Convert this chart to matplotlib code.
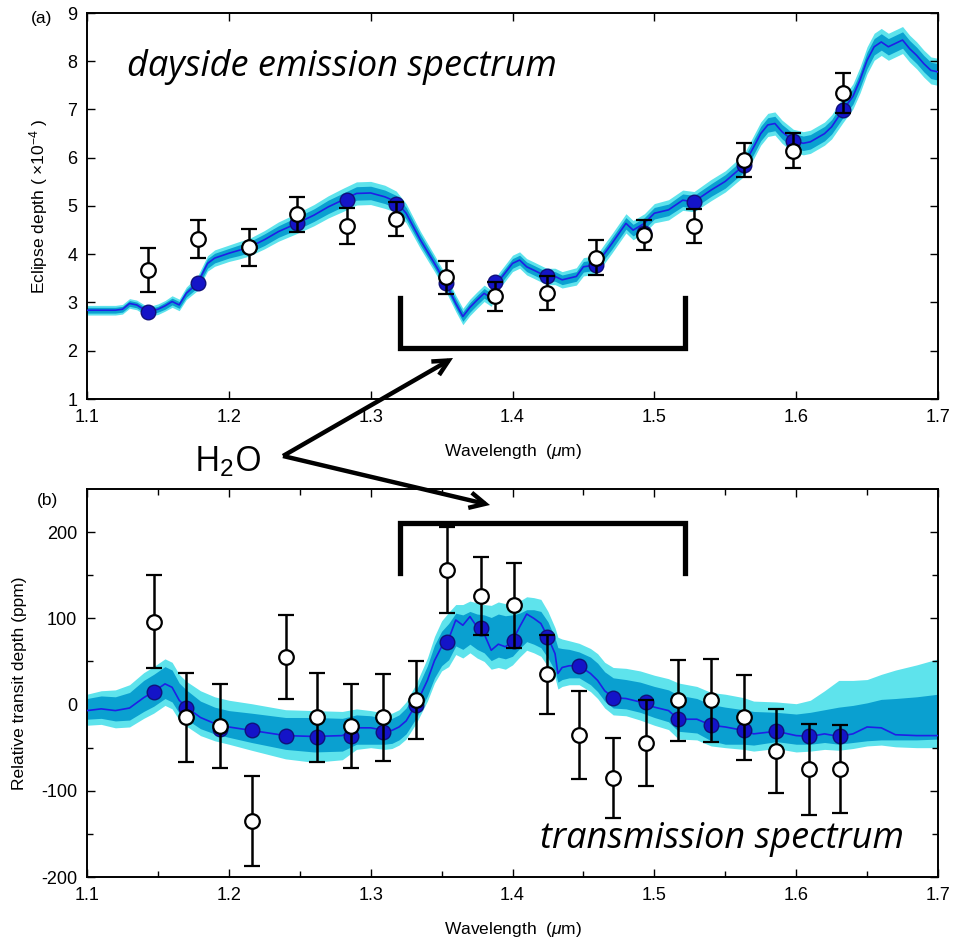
import matplotlib
matplotlib.use("Agg")
import matplotlib.pyplot as plt
import numpy as np

# ---- panel (a): dayside emission ----
em_model_wl = [1.100, 1.110, 1.120, 1.125, 1.130, 1.135, 1.140, 1.143, 1.150, 1.155,
               1.160, 1.165, 1.170, 1.178, 1.185, 1.190, 1.200, 1.207, 1.214, 1.225,
               1.235, 1.248, 1.260, 1.270, 1.280, 1.290, 1.300, 1.310, 1.318, 1.325,
               1.335, 1.345, 1.353, 1.360, 1.365, 1.370, 1.375, 1.380, 1.385, 1.390,
               1.400, 1.405, 1.410, 1.415, 1.424, 1.430, 1.435, 1.445, 1.450, 1.459,
               1.465, 1.470, 1.475, 1.480, 1.485, 1.493, 1.500, 1.510, 1.520, 1.528,
               1.540, 1.550, 1.563, 1.570, 1.575, 1.580, 1.585, 1.590, 1.598, 1.605,
               1.610, 1.620, 1.625, 1.633, 1.640, 1.645, 1.650, 1.655, 1.660, 1.665,
               1.670, 1.675, 1.680, 1.685, 1.690, 1.695, 1.700]
em_model = [2.84, 2.84, 2.84, 2.86, 2.98, 2.95, 2.86, 2.81, 2.86, 2.93,
            3.02, 2.95, 3.19, 3.40, 3.81, 3.92, 4.02, 4.08, 4.14, 4.30,
            4.47, 4.64, 4.81, 4.98, 5.12, 5.26, 5.27, 5.19, 5.09, 4.85,
            4.30, 3.81, 3.40, 2.98, 2.71, 2.90, 3.05, 3.19, 3.09, 3.43,
            3.81, 3.88, 3.74, 3.67, 3.54, 3.54, 3.47, 3.54, 3.74, 3.78,
            4.02, 4.22, 4.43, 4.64, 4.50, 4.64, 4.85, 4.92, 5.12, 5.09,
            5.33, 5.51, 5.84, 6.22, 6.50, 6.68, 6.71, 6.54, 6.35, 6.30,
            6.33, 6.50, 6.64, 6.99, 7.27, 7.61, 8.02, 8.30, 8.40, 8.30,
            8.37, 8.44, 8.26, 8.12, 7.95, 7.81, 7.78]
em_inner = [0.06, 0.06, 0.06, 0.06, 0.06, 0.06, 0.06, 0.06, 0.06, 0.07,
            0.07, 0.07, 0.08, 0.09, 0.10, 0.10, 0.10, 0.11, 0.11, 0.12,
            0.12, 0.13, 0.13, 0.14, 0.14, 0.14, 0.14, 0.14, 0.13, 0.12,
            0.11, 0.10, 0.10, 0.10, 0.10, 0.10, 0.10, 0.10, 0.10, 0.10,
            0.10, 0.10, 0.10, 0.10, 0.10, 0.10, 0.10, 0.10, 0.11, 0.11,
            0.11, 0.12, 0.12, 0.12, 0.12, 0.12, 0.12, 0.12, 0.13, 0.13,
            0.13, 0.14, 0.14, 0.15, 0.15, 0.15, 0.15, 0.15, 0.15, 0.15,
            0.15, 0.15, 0.15, 0.16, 0.16, 0.16, 0.17, 0.17, 0.17, 0.17,
            0.17, 0.17, 0.17, 0.17, 0.17, 0.17, 0.17]
em_outer = [0.10, 0.10, 0.10, 0.10, 0.10, 0.10, 0.10, 0.10, 0.11, 0.11,
            0.12, 0.12, 0.13, 0.15, 0.16, 0.17, 0.17, 0.18, 0.18, 0.19,
            0.20, 0.21, 0.22, 0.23, 0.24, 0.24, 0.24, 0.24, 0.22, 0.20,
            0.18, 0.17, 0.17, 0.17, 0.17, 0.17, 0.17, 0.17, 0.17, 0.17,
            0.17, 0.17, 0.17, 0.17, 0.17, 0.17, 0.17, 0.18, 0.19, 0.19,
            0.20, 0.20, 0.20, 0.20, 0.20, 0.20, 0.20, 0.21, 0.21, 0.21,
            0.22, 0.22, 0.23, 0.24, 0.24, 0.24, 0.24, 0.24, 0.24, 0.24,
            0.24, 0.24, 0.25, 0.26, 0.26, 0.27, 0.28, 0.28, 0.28, 0.28,
            0.28, 0.28, 0.28, 0.28, 0.28, 0.28, 0.28]

em_wl = [1.143, 1.178, 1.214, 1.248, 1.283, 1.318, 1.353, 1.388,
         1.424, 1.459, 1.493, 1.528, 1.563, 1.598, 1.633]
em_binned = [2.81, 3.40, 4.15, 4.64, 5.12, 5.04, 3.40, 3.43,
             3.54, 3.78, 4.45, 5.09, 5.84, 6.35, 6.99]
em_obs = [3.67, 4.31, 4.14, 4.83, 4.59, 4.73, 3.52, 3.13,
          3.19, 3.93, 4.40, 4.59, 5.95, 6.15, 7.34]
em_err = [0.46, 0.39, 0.38, 0.36, 0.37, 0.35, 0.34, 0.30,
          0.35, 0.36, 0.32, 0.35, 0.35, 0.37, 0.42]

# ---- panel (b): transmission ----
tr_model_wl = [1.100, 1.110, 1.120, 1.130, 1.140, 1.147, 1.155, 1.160, 1.165, 1.170,
               1.180, 1.190, 1.200, 1.216, 1.240, 1.260, 1.280, 1.290, 1.300, 1.310,
               1.315, 1.320, 1.325, 1.332, 1.340, 1.345, 1.350, 1.355, 1.360, 1.365,
               1.370, 1.375, 1.380, 1.385, 1.390, 1.395, 1.400, 1.405, 1.410, 1.415,
               1.420, 1.425, 1.430, 1.432, 1.435, 1.440, 1.447, 1.455, 1.460, 1.465,
               1.471, 1.480, 1.490, 1.500, 1.510, 1.517, 1.530, 1.540, 1.550, 1.563,
               1.570, 1.586, 1.600, 1.610, 1.620, 1.630, 1.640, 1.650, 1.660, 1.670,
               1.685, 1.700]
tr_model = [-7, -5, -7, -4, 8, 15, 24, 20, 5, -3,
            -15, -22, -26, -30, -36, -37, -36, -27, -27, -30,
            -30, -26, -19, 0, 28, 51, 67, 76, 98, 92,
            102, 90, 82, 63, 70, 67, 74, 90, 105, 100,
            94, 78, 59, 36, 43, 45, 45, 36, 28, 16,
            8, 7, 3, -3, -7, -17, -17, -24, -26, -30,
            -34, -31, -36, -37, -34, -37, -34, -26, -27, -35,
            -36, -36]
tr_in_up = [14, 15, 16, 18, 20, 20, 20, 20, 20, 20,
            19, 19, 19, 20, 21, 22, 20, 15, 14, 14,
            14, 14, 15, 16, 17, 18, 18, 18, 8, 12,
            6, 15, 22, 38, 35, 36, 30, 16, 5, 10,
            14, 18, 18, 30, 22, 19, 16, 19, 20, 22,
            23, 22, 23, 24, 24, 28, 24, 24, 23, 24,
            26, 22, 25, 28, 28, 34, 33, 28, 33, 42,
            45, 48]
tr_in_dn = [10, 11, 12, 14, 16, 17, 17, 17, 15, 14,
            13, 12, 12, 14, 16, 18, 18, 19, 19, 16,
            15, 15, 15, 16, 18, 20, 22, 24, 30, 28,
            32, 26, 22, 12, 15, 14, 18, 25, 32, 30,
            28, 24, 20, 10, 14, 14, 14, 13, 13, 12,
            12, 12, 12, 12, 13, 14, 16, 18, 20, 16,
            13, 12, 10, 9, 10, 9, 10, 16, 14, 6,
            5, 4]
tr_out_up = [19, 21, 24, 27, 29, 29, 29, 29, 30, 30,
             31, 31, 31, 31, 30, 30, 28, 22, 20, 20,
             20, 20, 22, 24, 26, 28, 30, 31, 18, 24,
             18, 28, 34, 52, 49, 50, 44, 30, 20, 24,
             28, 30, 30, 42, 33, 29, 26, 29, 31, 33,
             35, 35, 36, 37, 37, 42, 38, 38, 38, 38,
             38, 34, 37, 42, 50, 65, 62, 55, 62, 75,
             82, 89]
tr_out_dn = [17, 18, 20, 22, 24, 25, 25, 25, 23, 22,
             21, 20, 20, 23, 27, 30, 28, 25, 23, 22,
             21, 21, 21, 22, 24, 26, 28, 32, 40, 38,
             42, 36, 32, 22, 27, 26, 28, 35, 42, 40,
             38, 34, 28, 18, 22, 22, 22, 21, 21, 20,
             20, 20, 21, 21, 22, 23, 24, 24, 24, 22,
             20, 20, 19, 17, 18, 16, 17, 22, 20, 14,
             14, 14]

tr_wl = [1.147, 1.170, 1.194, 1.216, 1.240, 1.262, 1.286, 1.309, 1.332, 1.354, 1.378,
         1.401, 1.424, 1.447, 1.471, 1.494, 1.517, 1.540, 1.563, 1.586, 1.609, 1.631]
tr_binned = [15, -4, -28, -30, -36, -38, -37, -32, 0, 73, 89,
             74, 78, 45, 8, 3, -17, -24, -30, -31, -37, -37]
tr_obs = [96, -15, -25, -135, 55, -15, -25, -15, 5, 156, 126,
          115, 35, -35, -85, -45, 5, 5, -15, -54, -75, -75]
tr_err = [54, 52, 49, 52, 49, 52, 49, 50, 45, 50, 45,
          49, 46, 51, 46, 50, 47, 48, 49, 49, 53, 51]

C_LINE = "#1f1fe6"
C_INNER = "#0aa0d0"
C_OUTER = "#5ee3ec"
C_DOT = "#1414c8"

plt.rcParams["font.family"] = ["Liberation Sans", "DejaVu Sans"]
plt.rcParams["mathtext.fontset"] = "custom"
plt.rcParams["mathtext.rm"] = "Liberation Sans"
plt.rcParams["mathtext.it"] = "Liberation Sans:italic"
plt.rcParams["axes.unicode_minus"] = False

W, H = 957, 938
fig = plt.figure(figsize=(W / 100, H / 100), dpi=100)


def axes_px(left, top, right, bottom):
    return fig.add_axes([left / W, 1 - bottom / H, (right - left) / W, (bottom - top) / H])


def draw_panel(ax, mwl, model, lo_in, hi_in, lo_out, hi_out, wl, binned, obs, err):
    ax.fill_between(mwl, lo_out, hi_out, color=C_OUTER, lw=0, zorder=1)
    ax.fill_between(mwl, lo_in, hi_in, color=C_INNER, lw=0, zorder=2)
    ax.plot(mwl, model, color=C_LINE, lw=1.2, zorder=3)
    ax.plot(wl, binned, "o", ms=10.5, mfc=C_DOT, mec="#10107a", mew=1.0, zorder=4)
    ax.errorbar(wl, obs, yerr=err, fmt="o", ms=10.5, mfc="white", mec="black", mew=1.6,
                ecolor="black", elinewidth=1.8, capsize=5.5, capthick=1.8, zorder=5)
    ax.set_xlim(1.1, 1.7)
    ax.tick_params(direction="in", top=True, right=True, length=6, width=1.0,
                   labelsize=13, pad=7)
    ax.tick_params(which="minor", direction="in", top=True, right=True, length=4, width=1.0)
    for s in ax.spines.values():
        s.set_linewidth(1.4)
    ax.set_xticks(np.arange(1.1, 1.701, 0.1))
    ax.set_xticklabels(["1.1", "1.2", "1.3", "1.4", "1.5", "1.6", "1.7"])
    ax.set_xlabel(r"Wavelength  ($\mu$m)", fontsize=12.5, labelpad=12)


# panel (a)
ax1 = axes_px(87, 13, 938, 399)
m = np.array(em_model)
draw_panel(ax1, em_model_wl, m,
           m - np.array(em_inner), m + np.array(em_inner),
           m - np.array(em_outer), m + np.array(em_outer),
           em_wl, em_binned, em_obs, em_err)
ax1.set_ylim(1, 9)
ax1.set_yticks(range(1, 10))
ax1.set_ylabel(r"Eclipse depth ( $\times10^{-4}$ )", fontsize=12.5, labelpad=12)
fig.text(42 / W, 1 - 18 / H, "(a)", fontsize=12.5, ha="center", va="center")
ax1.text(1.128, 7.88, "dayside emission spectrum", fontsize=26, style="italic",
         family="Open Sans", ha="left", va="center")
ax1.plot([1.3207, 1.3207, 1.5217, 1.5217], [3.09, 2.06, 2.06, 3.09], color="black",
         lw=3.8, solid_joinstyle="miter", zorder=6)

# panel (b)
ax2 = axes_px(87, 489, 938, 877)
t = np.array(tr_model)
draw_panel(ax2, tr_model_wl, t,
           t - np.array(tr_in_dn), t + np.array(tr_in_up),
           t - np.array(tr_out_dn), t + np.array(tr_out_up),
           tr_wl, tr_binned, tr_obs, tr_err)
ax2.set_ylim(-200, 250)
ax2.set_yticks([-200, -100, 0, 100, 200])
ax2.set_yticks([-150, -50, 50, 150], minor=True)
ax2.set_xticks(np.arange(1.15, 1.7, 0.1), minor=True)
ax2.set_ylabel("Relative transit depth (ppm)", fontsize=12.5, labelpad=10)
fig.text(47 / W, 1 - 500 / H, "(b)", fontsize=12.5, ha="center", va="center")
ax2.text(1.4195, -156, "transmission spectrum", fontsize=26, style="italic",
         family="Open Sans", ha="left", va="center")
ax2.plot([1.3207, 1.3207, 1.5217, 1.5217], [152, 210, 210, 152], color="black",
         lw=3.8, solid_joinstyle="miter", zorder=6)

# H2O label and arrows (figure pixel coordinates)
fig.text(228 / W, 1 - 462 / H, r"H$_2$O", fontsize=25, family="Open Sans",
         ha="center", va="center")
for tip in [(453, 358), (490, 505)]:
    fig.add_artist(matplotlib.patches.FancyArrowPatch(
        (283 / W, 1 - 456 / H), (tip[0] / W, 1 - tip[1] / H),
        transform=fig.transFigure, arrowstyle="->", mutation_scale=28,
        lw=3.2, color="black", shrinkA=0, shrinkB=0, joinstyle="miter",
        capstyle="butt"))

fig.savefig("out.png", dpi=100)
